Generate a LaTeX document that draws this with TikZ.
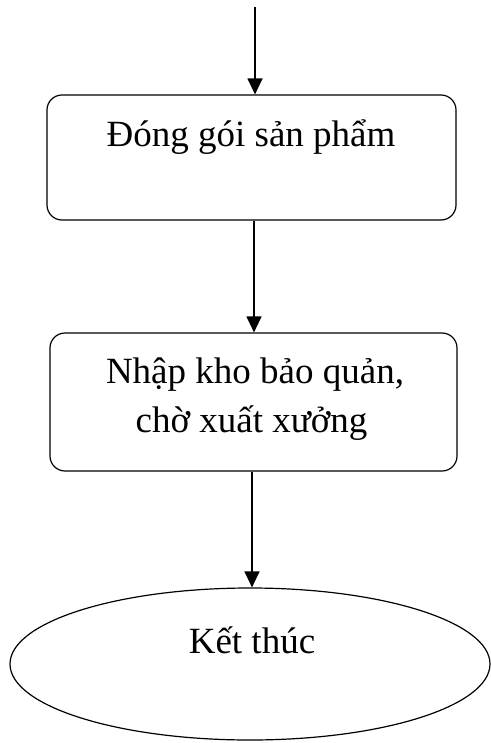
\documentclass[tikz,border=0pt]{standalone}
\usepackage{fontspec}
\setmainfont{Liberation Serif}
\usetikzlibrary{shapes.geometric,arrows.meta}
\begin{document}
\begin{tikzpicture}[x=1pt,y=-1pt,
  every node/.style={font=\fontsize{37}{49}\selectfont},
  procbox/.style={draw,line width=1.2pt,rounded corners=15pt,inner sep=0pt},
  endshape/.style={draw,ellipse,line width=1.2pt,inner sep=0pt},
  txt/.style={align=center,inner sep=0pt},
  flow/.style={line width=1.3pt,-{Triangle[width=15pt,length=16pt]}}]
\useasboundingbox (0,0) rectangle (490,743);
\coordinate (start) at (255,7);
\node[procbox,minimum width=409pt,minimum height=125pt] (b1) at (251.5,157.5) {};
\node[txt,anchor=base] (t1) at (251,147) {Đóng gói sản phẩm};
\node[procbox,minimum width=407pt,minimum height=138pt] (b2) at (253.5,402) {};
\node[txt,anchor=base] (t2a) at (255,383) {Nhập kho bảo quản,};
\node[txt,anchor=base] (t2b) at (251.5,432) {chờ xuất xưởng};
\node[endshape,minimum width=480pt,minimum height=152pt] (e) at (250,664) {};
\node[txt,anchor=base] (t3) at (252,653) {Kết thúc};
\draw[flow] (start) -- (start |- b1.north);
\draw[flow] ([xshift=2.5pt]b1.south) -- ([xshift=0.5pt]b2.north);
\draw[flow] ([xshift=-1.5pt]b2.south) -- ([xshift=2pt]e.north);
\end{tikzpicture}
\end{document}
